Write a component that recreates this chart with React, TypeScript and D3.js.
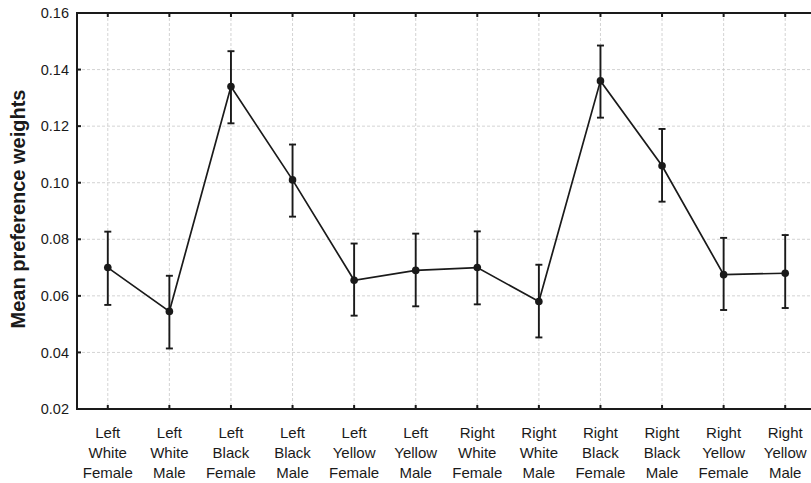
import React from 'react';
import * as d3 from 'd3';

const categories = [
  ['Left', 'White', 'Female'],
  ['Left', 'White', 'Male'],
  ['Left', 'Black', 'Female'],
  ['Left', 'Black', 'Male'],
  ['Left', 'Yellow', 'Female'],
  ['Left', 'Yellow', 'Male'],
  ['Right', 'White', 'Female'],
  ['Right', 'White', 'Male'],
  ['Right', 'Black', 'Female'],
  ['Right', 'Black', 'Male'],
  ['Right', 'Yellow', 'Female'],
  ['Right', 'Yellow', 'Male'],
];
const means = [0.07, 0.0545, 0.134, 0.101, 0.0655, 0.069, 0.07, 0.058, 0.136, 0.106, 0.0675, 0.068];
const lower = [0.0568, 0.0414, 0.121, 0.088, 0.053, 0.0563, 0.057, 0.0453, 0.123, 0.0933, 0.055, 0.0557];
const upper = [0.0827, 0.0671, 0.1465, 0.1135, 0.0785, 0.082, 0.0828, 0.071, 0.1485, 0.119, 0.0805, 0.0815];
const yTicks = [0.02, 0.04, 0.06, 0.08, 0.1, 0.12, 0.14, 0.16];

const W = 811;
const H = 483;
const margin = { top: 13, bottom: 74, left: 77, right: -5 };
const font = "'Liberation Sans', Arial, Helvetica, sans-serif";

export default function App() {
  const x = d3
    .scaleLinear()
    .domain([0.5, categories.length + 0.5])
    .range([margin.left, W - margin.right]);
  const y = d3
    .scaleLinear()
    .domain([0.02, 0.16])
    .range([H - margin.bottom, margin.top]);

  const line = d3
    .line<number>()
    .x((d, i) => x(i + 1))
    .y(d => y(d));

  const x0 = x.range()[0];
  const x1 = x.range()[1];
  const y0 = y.range()[0];
  const y1 = y.range()[1];
  const cap = 3.5;

  return (
    <svg
      width={W}
      height={H}
      style={{ position: 'absolute', left: 0, top: 0, background: '#fff' }}
      fontFamily={font}
    >
      {/* grid */}
      <g stroke="#c8c8c8" strokeWidth={0.8} strokeDasharray="3,2">
        {yTicks.slice(1, -1).map(t => (
          <line key={t} x1={x0} x2={x1} y1={y(t)} y2={y(t)} />
        ))}
        {categories.map((c, i) => (
          <line key={i} x1={x(i + 1)} x2={x(i + 1)} y1={y1} y2={y0} />
        ))}
      </g>

      {/* error bars */}
      <g stroke="#1a1a1a" strokeWidth={1.9}>
        {means.map((m, i) => (
          <g key={i}>
            <line x1={x(i + 1)} x2={x(i + 1)} y1={y(lower[i])} y2={y(upper[i])} />
            <line x1={x(i + 1) - cap} x2={x(i + 1) + cap} y1={y(lower[i])} y2={y(lower[i])} />
            <line x1={x(i + 1) - cap} x2={x(i + 1) + cap} y1={y(upper[i])} y2={y(upper[i])} />
          </g>
        ))}
      </g>

      <path d={line(means) || ''} fill="none" stroke="#1a1a1a" strokeWidth={1.7} />
      {means.map((m, i) => (
        <circle key={i} cx={x(i + 1)} cy={y(m)} r={3.8} fill="#1a1a1a" />
      ))}

      {/* frame */}
      <g stroke="#1a1a1a" strokeWidth={2}>
        <line x1={x0} x2={x0} y1={y1} y2={y0} />
        <line x1={x1} x2={x1} y1={y1} y2={y0} />
        <line x1={x0 - 1} x2={x1} y1={y1} y2={y1} />
        <line x1={x0 - 1} x2={x1} y1={y0} y2={y0} />
        {yTicks.map(t => (
          <line key={t} x1={x0} x2={x0 + 4} y1={y(t)} y2={y(t)} />
        ))}
        {categories.map((c, i) => (
          <g key={i}>
            <line x1={x(i + 1)} x2={x(i + 1)} y1={y0} y2={y0 - 4} />
            <line x1={x(i + 1)} x2={x(i + 1)} y1={y1} y2={y1 + 4} />
          </g>
        ))}
      </g>

      {/* y tick labels */}
      <g fontSize={14.5} fill="#1a1a1a" textAnchor="end">
        {yTicks.map(t => (
          <text key={t} x={x0 - 8} y={y(t)} dy="0.35em">
            {d3.format('.2f')(t)}
          </text>
        ))}
      </g>

      {/* x tick labels */}
      <g fontSize={15} fill="#1a1a1a" textAnchor="middle">
        {categories.map((c, i) => (
          <text key={i} x={x(i + 1)} y={y0 + 29}>
            {c.map((s, j) => (
              <tspan key={j} x={x(i + 1)} dy={j === 0 ? 0 : 20}>
                {s}
              </tspan>
            ))}
          </text>
        ))}
      </g>

      <text
        transform={`translate(25,209) rotate(-90)`}
        textAnchor="middle"
        fontSize={20}
        fontWeight="bold"
        fill="#1a1a1a"
      >
        Mean preference weights
      </text>
    </svg>
  );
}
